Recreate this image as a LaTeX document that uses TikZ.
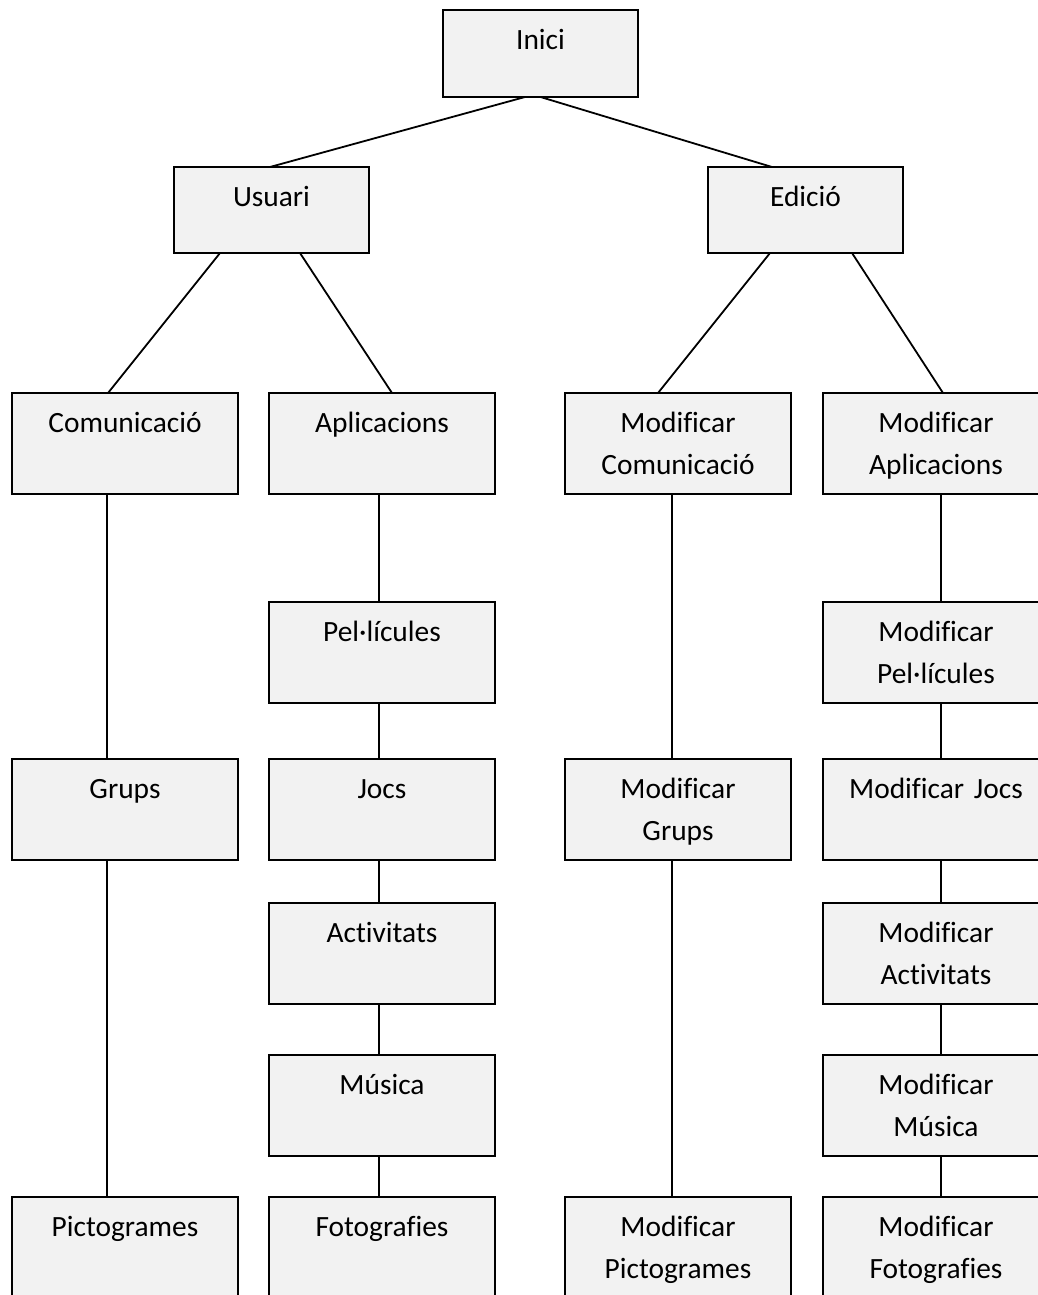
\documentclass[tikz,border=0pt]{standalone}
\usepackage{fontspec}
\setmainfont{Carlito}[Ligatures=NoCommon]
\definecolor{boxfill}{HTML}{F2F2F2}
\tikzset{
  box/.style={draw=black, fill=boxfill, line width=1.8pt, rectangle, inner sep=0pt, outer sep=0pt},
  lbl/.style={font=\fontsize{29.4}{42}\selectfont, text width=224pt, align=center, inner sep=0pt},
  link/.style={draw=black, line width=1.8pt},
}
% box: name, left x, top y, width, height, text (text sits near the top)
\newcommand\mkbox[6]{%
  \node[box, minimum width=#4pt, minimum height=#5pt, anchor=north west] (#1) at (#2,#3) {};
  \node[lbl, anchor=base] at ([yshift=-39.5pt]#1.north) {#6};
}
\begin{document}
\begin{tikzpicture}[x=1pt, y=-1pt]
  \useasboundingbox (0,0) rectangle (1038,1295);
  \clip (0,0) rectangle (1038,1295);
  \fill[white] (0,0) rectangle (1038,1295);

  % top levels
  \mkbox{inici}{443}{10}{195}{87}{Inici}
  \mkbox{usuari}{174}{167}{195}{86}{Usuari}
  \mkbox{edicio}{708}{167}{195}{86}{Edició}

  % user branch
  \mkbox{com}{12}{393}{226}{101}{Comunicació}
  \mkbox{grups}{12}{759}{226}{101}{Grups}
  \mkbox{picto}{12}{1197}{226}{101}{Pictogrames}

  \mkbox{apl}{269}{393}{226}{101}{Aplicacions}
  \mkbox{peli}{269}{602}{226}{101}{Pel·lícules}
  \mkbox{jocs}{269}{759}{226}{101}{Jocs}
  \mkbox{activ}{269}{903}{226}{101}{Activitats}
  \mkbox{musica}{269}{1055}{226}{101}{Música}
  \mkbox{foto}{269}{1197}{226}{101}{Fotografies}

  % edit branch
  \mkbox{mcom}{565}{393}{226}{101}{Modificar\\Comunicació}
  \mkbox{mgrups}{565}{759}{226}{101}{Modificar\\Grups}
  \mkbox{mpicto}{565}{1197}{226}{101}{Modificar\\Pictogrames}

  \mkbox{mapl}{823}{393}{226}{101}{Modificar\\Aplicacions}
  \mkbox{mpeli}{823}{602}{226}{101}{Modificar\\Pel·lícules}
  \mkbox{mjocs}{823}{759}{226}{101}{Modificar Jocs}
  \mkbox{mactiv}{823}{903}{226}{101}{Modificar\\Activitats}
  \mkbox{mmusica}{823}{1055}{226}{101}{Modificar\\Música}
  \mkbox{mfoto}{823}{1197}{226}{101}{Modificar\\Fotografies}

  % diagonal connectors
  \draw[link] ([xshift=-15.5pt]inici.south) -- ([xshift=-1.5pt]usuari.north);
  \draw[link] ([xshift=0pt]inici.south) -- ([xshift=-33.5pt]edicio.north);
  \draw[link] ([xshift=-51.5pt]usuari.south) -- ([xshift=-17pt]com.north);
  \draw[link] ([xshift=28.5pt]usuari.south) -- ([xshift=10pt]apl.north);
  \draw[link] ([xshift=-35.5pt]edicio.south) -- ([xshift=-20pt]mcom.north);
  \draw[link] ([xshift=46.5pt]edicio.south) -- ([xshift=7pt]mapl.north);

  % vertical connectors
  \draw[link] ([xshift=-18pt]com.south) -- ([xshift=-18pt]grups.north);
  \draw[link] ([xshift=-18pt]grups.south) -- ([xshift=-18pt]picto.north);

  \draw[link] ([xshift=-3pt]apl.south) -- ([xshift=-3pt]peli.north);
  \draw[link] ([xshift=-3pt]peli.south) -- ([xshift=-3pt]jocs.north);
  \draw[link] ([xshift=-3pt]jocs.south) -- ([xshift=-3pt]activ.north);
  \draw[link] ([xshift=-3pt]activ.south) -- ([xshift=-3pt]musica.north);
  \draw[link] ([xshift=-3pt]musica.south) -- ([xshift=-3pt]foto.north);

  \draw[link] ([xshift=-6pt]mcom.south) -- ([xshift=-6pt]mgrups.north);
  \draw[link] ([xshift=-6pt]mgrups.south) -- ([xshift=-6pt]mpicto.north);

  \draw[link] ([xshift=5pt]mapl.south) -- ([xshift=5pt]mpeli.north);
  \draw[link] ([xshift=5pt]mpeli.south) -- ([xshift=5pt]mjocs.north);
  \draw[link] ([xshift=5pt]mjocs.south) -- ([xshift=5pt]mactiv.north);
  \draw[link] ([xshift=5pt]mactiv.south) -- ([xshift=5pt]mmusica.north);
  \draw[link] ([xshift=5pt]mmusica.south) -- ([xshift=5pt]mfoto.north);
\end{tikzpicture}
\end{document}
